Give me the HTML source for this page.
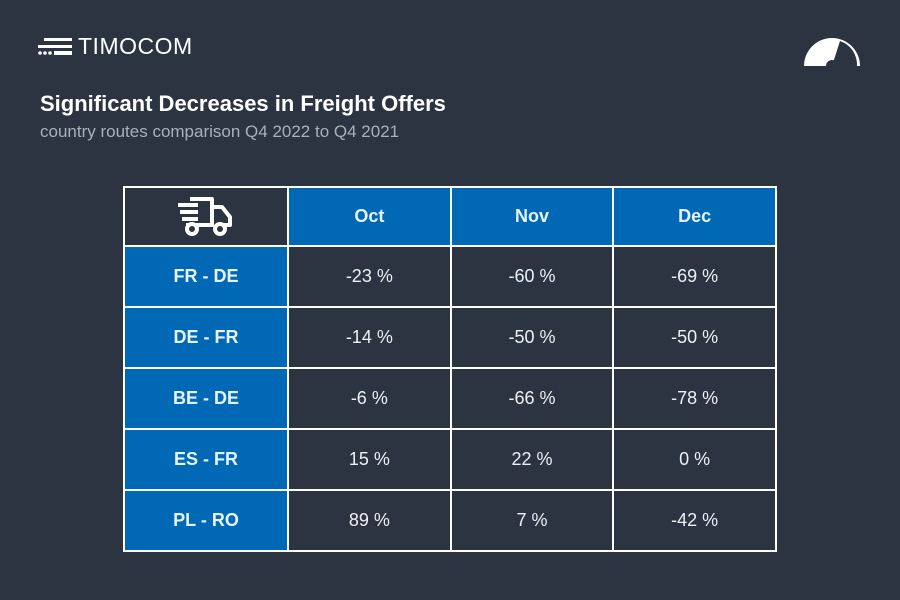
<!DOCTYPE html>
<html><head><style>
body{margin:0;width:900px;height:600px;background:#2c3442;font-family:"Liberation Sans",sans-serif;position:relative;overflow:hidden}
.logo{position:absolute;left:78px;top:33px;color:#fff;font-size:23px;letter-spacing:0.5px}
.t1{position:absolute;left:40px;top:91px;color:#fff;font-size:22px;font-weight:bold}
.t2{position:absolute;left:40px;top:122px;color:#a9b0bb;font-size:17px}
table{position:absolute;left:123px;top:186px;border-collapse:collapse;width:654px}
td{border:2px solid #fff;text-align:center;color:#fff;font-size:18px;padding:0;vertical-align:middle}
tr.r td{height:59px}
tr.h td{height:57px}
.b{background:#0068b4;font-weight:bold;color:#e6f4ff}
.d{background:#2c3442;color:#eef0f3}
</style></head><body>
<svg style="position:absolute;left:38px;top:38px" width="36" height="20">
<rect x="6" y="0" width="28" height="3" fill="#fff"/><rect x="0" y="7" width="34" height="3" fill="#fff"/>
<circle cx="2" cy="15" r="1.8" fill="#fff"/><circle cx="7" cy="15" r="1.8" fill="#fff"/><circle cx="12" cy="15" r="1.8" fill="#fff"/><rect x="16" y="13" width="18" height="4" fill="#fff"/></svg>
<div class="logo">TIMOCOM</div>
<div class="t1">Significant Decreases in Freight Offers</div>
<div class="t2">country routes comparison Q4 2022 to Q4 2021</div>
<svg style="position:absolute;left:800px;top:34px" width="64" height="34">
<path d="M4 32 A28 28 0 0 1 60 32 Z" fill="#fff"/>
<path d="M32 32 L40 7 A25 25 0 0 1 57 32 Z" fill="#2c3442"/>
<circle cx="32" cy="32" r="6" fill="#2c3442"/></svg>
<table>
<tr class="h"><td class="d" style="width:162px"><svg style="display:block;margin:0 auto" width="62" height="44" viewBox="0 0 60 44"><g fill="none" stroke="#fff" stroke-width="4" stroke-linejoin="round"><path d="M14 4 H36 V30 H10"/><path d="M36 12 H46 L54 22 V30 H48"/><path d="M2 10H22M4 17H22M6 24H22"/></g><circle cx="16" cy="34" r="5" fill="#2c3442" stroke="#fff" stroke-width="4"/><circle cx="44" cy="34" r="5" fill="#2c3442" stroke="#fff" stroke-width="4"/></svg></td><td class="b">Oct</td><td class="b">Nov</td><td class="b">Dec</td></tr>
<tr class="r"><td class="b">FR - DE</td><td class="d">-23 %</td><td class="d">-60 %</td><td class="d">-69 %</td></tr>
<tr class="r"><td class="b">DE - FR</td><td class="d">-14 %</td><td class="d">-50 %</td><td class="d">-50 %</td></tr>
<tr class="r"><td class="b">BE - DE</td><td class="d">-6 %</td><td class="d">-66 %</td><td class="d">-78 %</td></tr>
<tr class="r"><td class="b">ES - FR</td><td class="d">15 %</td><td class="d">22 %</td><td class="d">0 %</td></tr>
<tr class="r"><td class="b">PL - RO</td><td class="d">89 %</td><td class="d">7 %</td><td class="d">-42 %</td></tr>
</table>
</body></html>
